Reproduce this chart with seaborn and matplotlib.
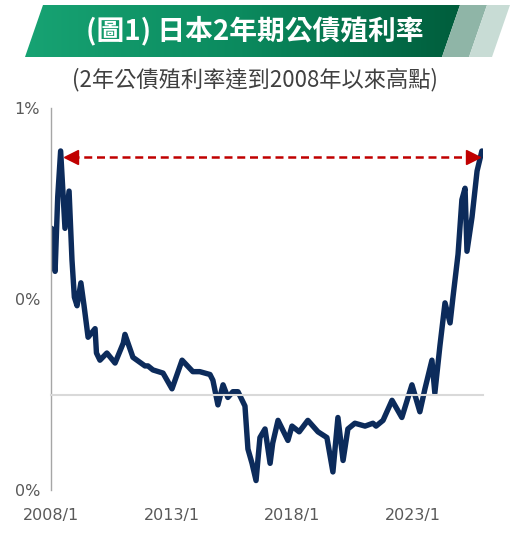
import pandas as pd
import numpy as np
import matplotlib
matplotlib.use('Agg')
import matplotlib.pyplot as plt
import seaborn as sns
from matplotlib.patches import Polygon
from matplotlib.colors import LinearSegmentedColormap


# values (yield in %)
dates = ['2008-01-10', '2008-03-03', '2008-04-12', '2008-05-26', '2008-07-31', '2008-10-01',
         '2008-11-14', '2008-12-20', '2009-01-30', '2009-03-29', '2009-05-16', '2009-07-16',
         '2009-10-30', '2009-11-20', '2010-01-12', '2010-04-27', '2010-08-29', '2011-01-01',
         '2011-01-26', '2011-05-27', '2011-11-25', '2012-01-10', '2012-03-25', '2012-08-25',
         '2013-01-08', '2013-06-10', '2013-11-20', '2014-03-05', '2014-08-07', '2014-09-20',
         '2014-12-05', '2015-02-21', '2015-05-05', '2015-07-20', '2015-10-05', '2016-01-19',
         '2016-03-04', '2016-05-05', '2016-07-05', '2016-09-02', '2016-11-18', '2017-02-03',
         '2017-03-14', '2017-06-03', '2017-10-31', '2018-01-01', '2018-04-20', '2018-08-29',
         '2019-01-30', '2019-06-14', '2019-09-13', '2019-11-28', '2020-02-14', '2020-04-27',
         '2020-08-11', '2021-01-12', '2021-05-12', '2021-06-28', '2021-10-12', '2022-02-25',
         '2022-07-24', '2022-12-24', '2023-04-23', '2023-07-09', '2023-10-23', '2023-12-06',
         '2024-02-21', '2024-05-08', '2024-07-24', '2024-09-06', '2024-11-22', '2025-01-19',
         '2025-03-08', '2025-04-06', '2025-06-22', '2025-09-06', '2025-11-18']
yields = [0.58, 0.43, 0.69, 0.85, 0.58, 0.71,
          0.47, 0.34, 0.31, 0.39, 0.31, 0.20,
          0.23, 0.145, 0.12, 0.145, 0.11, 0.18,
          0.21, 0.13, 0.10, 0.10, 0.086, 0.075,
          0.02, 0.12, 0.08, 0.08, 0.07, 0.05,
          -0.036, 0.034, -0.01, 0.01, 0.01, -0.04,
          -0.19, -0.24, -0.30, -0.15, -0.12, -0.24,
          -0.17, -0.09, -0.16, -0.11, -0.13, -0.09,
          -0.13, -0.15, -0.27, -0.08, -0.23, -0.12,
          -0.10, -0.11, -0.10, -0.11, -0.09, -0.02,
          -0.08, 0.034, -0.06, 0.02, 0.12, 0.005,
          0.17, 0.32, 0.25, 0.34, 0.49, 0.68,
          0.72, 0.50, 0.62, 0.78, 0.85]

ytick_vals = [1.0, 0.333, -0.333]
ytick_labels = ['1%', '0%', '0%']
xtick_years = [2008, 2013, 2018, 2023]
xtick_labels = ['2008/1', '2013/1', '2018/1', '2023/1']

title = '(圖1) 日本2年期公債殖利率'
subtitle = '(2年公債殖利率達到2008年以來高點)'


def main():
    sns.set_style('white')
    plt.rcParams['font.family'] = ['Noto Sans CJK TC', 'DejaVu Sans']

    df = pd.DataFrame({'date': pd.to_datetime(dates), 'yield': yields})

    fig = plt.figure(figsize=(5.16, 5.34), dpi=100)
    ax = fig.add_axes([51 / 516, 1 - 490 / 534, (483 - 51) / 516, (490 - 108) / 534])

    sns.lineplot(data=df, x='date', y='yield', ax=ax, color='#0c2b5b', linewidth=3.9)

    ax.set_xlim(pd.Timestamp('2008-01-01'), pd.Timestamp('2025-12-05'))
    ax.set_ylim(-0.333, 1.0)
    ax.set_xlabel('')
    ax.set_ylabel('')

    # y axis
    ax.set_yticks(ytick_vals)
    ax.set_yticklabels(ytick_labels, family='DejaVu Sans')
    ax.tick_params(axis='y', direction='out', length=5, width=1, color='#a6a6a6',
                   labelcolor='#595959', labelsize=11.5, pad=3)
    ax.spines['left'].set_color('#a6a6a6')
    ax.spines['left'].set_linewidth(1)

    # x axis sits at zero, labels at the bottom
    xt = [pd.Timestamp(f'{y}-01-01') for y in xtick_years]
    ax.set_xticks(xt)
    ax.tick_params(axis='x', direction='out', length=4, width=1.5, color='#d9d9d9',
                   labelbottom=False)
    ax.spines['bottom'].set_position(('data', 0))
    ax.spines['bottom'].set_color('#d9d9d9')
    ax.spines['bottom'].set_linewidth(1.5)
    ax.spines['top'].set_visible(False)
    ax.spines['right'].set_visible(False)
    for t, lab in zip(xt, xtick_labels):
        ax.text(t, -0.068, lab, transform=ax.get_xaxis_transform(), ha='center', va='center',
                fontsize=11.5, color='#595959', family='DejaVu Sans')

    # dashed double arrow between the two highs
    y_arrow = 0.83
    x0 = pd.Timestamp('2008-11-01')
    x1 = pd.Timestamp('2025-07-05')
    ax.plot([x0, x1], [y_arrow, y_arrow], color='#c00000', linewidth=1.8, dashes=(3.2, 1.9))
    ax.plot([x0], [y_arrow], marker='<', markersize=10, color='#c00000')
    ax.plot([x1], [y_arrow], marker='>', markersize=10, color='#c00000')

    # banner and titles in pixel coords
    ov = fig.add_axes([0, 0, 1, 1])
    ov.set_xlim(0, 516)
    ov.set_ylim(534, 0)
    ov.axis('off')

    green = Polygon([(25, 57), (43, 5), (460, 5), (442, 57)], closed=True,
                    facecolor='none', edgecolor='none')
    ov.add_patch(green)
    cmap = LinearSegmentedColormap.from_list('g', ['#17a373', '#0b8a5e', '#005d3c'])
    grad = np.linspace(0, 1, 256).reshape(1, -1)
    im = ov.imshow(grad, cmap=cmap, extent=[25, 460, 57, 5], aspect='auto', zorder=1)
    im.set_clip_path(green)
    ov.add_patch(Polygon([(442, 57), (460, 5), (487, 5), (469, 57)], closed=True,
                         facecolor='#8fb5a7', edgecolor='none', zorder=1))
    ov.add_patch(Polygon([(469, 57), (487, 5), (510, 5), (492, 57)], closed=True,
                         facecolor='#c8dcd5', edgecolor='none', zorder=1))
    ov.set_xlim(0, 516)
    ov.set_ylim(534, 0)

    ov.text(255, 31, title, ha='center', va='center', color='white', fontsize=20,
            fontweight='bold', zorder=2)
    ov.text(255, 80, subtitle, ha='center', va='center', color='#404040', fontsize=16,
            zorder=2)

    fig.savefig('out.png', dpi=100)


if __name__ == '__main__':
    main()
